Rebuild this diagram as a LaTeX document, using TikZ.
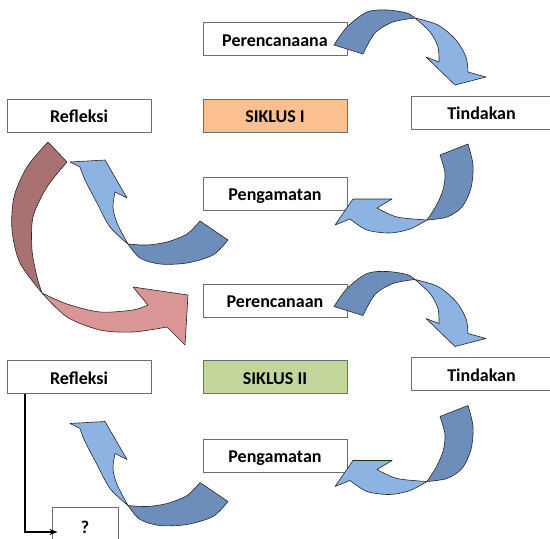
\documentclass[tikz,border=0pt]{standalone}
\usepackage{fontspec}
\setmainfont{Carlito}
\usetikzlibrary{arrows.meta}

\definecolor{ribbondark}{HTML}{6D8EBB}
\definecolor{ribbonlight}{HTML}{8DB3E2}
\definecolor{loopdark}{HTML}{A87272}
\definecolor{looplight}{HTML}{D99694}
\definecolor{siklusone}{HTML}{FAC090}
\definecolor{siklustwo}{HTML}{C3D69B}
\definecolor{boxline}{HTML}{6E6E6E}

\tikzset{
  stage/.style={draw=boxline, line width=1pt, fill=white, minimum width=144pt, minimum height=33pt,
    inner sep=0pt, text height=15pt, text depth=1pt, font=\fontsize{18}{20}\selectfont\bfseries},
  ribbon/.style={draw=black!85, line width=0.6pt, line join=round},
}

\begin{document}
\begin{tikzpicture}[x=1pt, y=-1pt]
  \useasboundingbox (0,0) rectangle (550,539);
  % siklus I
  \node[stage] (plan1) at (275,39) {Perencanaana};
  \node[stage, fill=siklusone] (siklus1) at (275,115.5) {SIKLUS I};
  \node[stage, minimum width=141pt] (tind1) at (481.5,112.5) {Tindakan};
  \node[stage] (peng1) at (275,193.5) {Pengamatan};
  \node[stage] (refl1) at (79,115.5) {Refleksi};
  % siklus II
  \node[stage] (plan2) at (275,300.5) {Perencanaan};
  \node[stage, fill=siklustwo] (siklus2) at (275,377) {SIKLUS II};
  \node[stage, minimum width=141pt] (tind2) at (481.5,374) {Tindakan};
  \node[stage] (peng2) at (275,455.5) {Pengamatan};
  \node[stage] (refl2) at (79,377) {Refleksi};
  \node[stage, minimum width=66pt, minimum height=38pt] (q) at (85,526) {?};

  % red ribbon from siklus I to siklus II
  \filldraw[ribbon, fill=loopdark] plot[smooth] coordinates {(48,142) (27,167) (14,197) (12,230) (20,263) (42,293)}
    -- plot[smooth] coordinates {(42,293) (37,277) (32,250) (33,217) (47,187) (67,162)} -- cycle;
  \filldraw[ribbon, fill=looplight] plot[smooth] coordinates {(42,293) (67,317) (100,330) (133,332) (167,327)}
    -- (185,345) -- (188,295) -- (133,287) -- (148,305)
    -- plot[smooth] coordinates {(148,305) (133,310) (100,312) (67,304) (42,293)} -- cycle;

  % blue ribbons, same in both cycles
  \foreach \dy in {0,261.5}{
    \begin{scope}[shift={(0,\dy)}]
      % plan -> tindakan
      \filldraw[ribbon, fill=ribbondark] plot[smooth] coordinates {(334,45) (347,27) (367,12) (387,10) (407,13) (415,18)}
        -- plot[smooth] coordinates {(415,18) (393,22) (375,33) (363,54)} -- cycle;
      \filldraw[ribbon, fill=ribbonlight] plot[smooth] coordinates {(415,18) (438,25) (456,40) (466,57) (468,72)}
        -- (486,77) -- (455,85) -- (426,57) -- (439,62)
        -- plot[smooth] coordinates {(439,62) (438,47) (430,32) (415,18)} -- cycle;
      % tindakan -> pengamatan
      \filldraw[ribbon, fill=ribbondark] plot[smooth] coordinates {(468,144) (473,165) (471,188) (462,207) (447,217) (427,220)}
        -- plot[smooth] coordinates {(427,220) (436,206) (443,190) (445,173) (440,155)} -- cycle;
      \filldraw[ribbon, fill=ribbonlight] plot[smooth] coordinates {(427,220) (410,229) (390,233) (367,230) (350,219)}
        -- (335,225) -- (353,199) -- (392,199) -- (377,208)
        -- plot[smooth] coordinates {(377,208) (397,217) (427,220)} -- cycle;
      % pengamatan -> refleksi
      \filldraw[ribbon, fill=ribbondark] plot[smooth] coordinates {(228,240) (213,255) (187,263) (160,264) (140,258) (128,244)}
        -- plot[smooth] coordinates {(128,244) (147,245) (167,242) (187,234) (200,221)} -- cycle;
      \filldraw[ribbon, fill=ribbonlight] plot[smooth] coordinates {(128,244) (110,227) (97,203) (85,180) (80,167)}
        -- (70,162) -- (105,160) -- (127,198) -- (115,192)
        -- plot[smooth] coordinates {(115,192) (113,207) (117,223) (128,244)} -- cycle;
    \end{scope}
  }

  % refleksi II -> ?
  \draw[line width=2pt, -{Stealth[length=8pt]}] ([xshift=18pt]refl2.south west) |- ([xshift=6pt, yshift=-6pt]q.west);
\end{tikzpicture}
\end{document}
